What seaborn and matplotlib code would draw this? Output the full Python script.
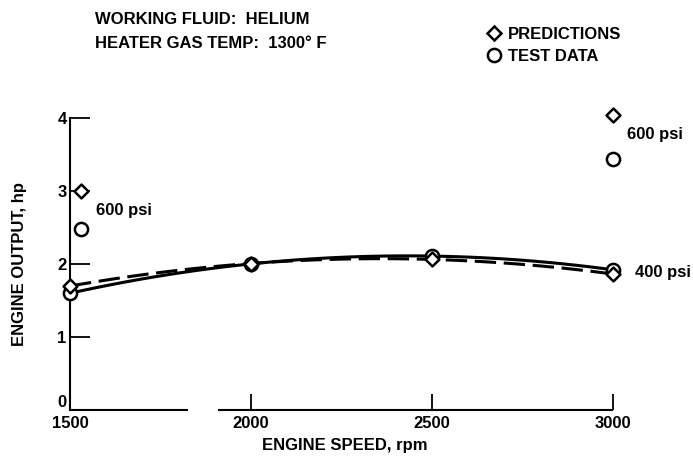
import matplotlib
matplotlib.use("Agg")
import matplotlib.pyplot as plt
import seaborn as sns
import pandas as pd
from matplotlib.lines import Line2D

# ---- data ----
speed_400 = [1500, 2000, 2500, 3000]
pred_400 = [1.70, 2.00, 2.07, 1.86]
test_400 = [1.60, 2.00, 2.11, 1.92]

speed_600_pred = [1530, 3000]
pred_600 = [3.00, 4.04]
speed_600_test = [1530, 3000]
test_600 = [2.48, 3.44]

x_ticks = [1500, 2000, 2500, 3000]
y_ticks = [0, 1, 2, 3, 4]

sns.set_theme(style="white")
plt.rcParams["font.family"] = ["Liberation Sans", "DejaVu Sans"]
plt.rcParams["font.weight"] = "bold"
plt.rcParams["text.color"] = "black"
plt.rcParams["axes.labelcolor"] = "black"
plt.rcParams["xtick.color"] = "black"
plt.rcParams["ytick.color"] = "black"

FS = 12

fig = plt.figure(figsize=(6.93, 4.67), dpi=100)
ax = fig.add_axes([70 / 693, 1 - 410 / 467, 543 / 693, 292 / 467])

df400 = pd.DataFrame({"speed": speed_400, "pred": pred_400, "test": test_400})

# fitted curves
sns.regplot(data=df400, x="speed", y="test", order=2, ci=None, scatter=False,
            ax=ax, color="black", line_kws=dict(lw=2.2, solid_capstyle="round"))
sns.regplot(data=df400, x="speed", y="pred", order=2, ci=None, scatter=False,
            ax=ax, color="black", line_kws=dict(lw=2.2, dashes=(7, 2.5)))

mk = dict(facecolor="white", edgecolor="black", linewidth=1.8, zorder=5, clip_on=False)
sns.scatterplot(x=speed_400, y=test_400, marker="o", s=90, ax=ax, **mk)
sns.scatterplot(x=speed_400, y=pred_400, marker="D", s=50, ax=ax, **mk)
sns.scatterplot(x=speed_600_test, y=test_600, marker="o", s=90, ax=ax, **mk)
sns.scatterplot(x=speed_600_pred, y=pred_600, marker="D", s=50, ax=ax, **mk)

ax.set_xlim(1500, 3000)
ax.set_ylim(0, 4)
ax.set_xticks(x_ticks)
ax.set_yticks(y_ticks)
ax.set_xticklabels([str(v) for v in x_ticks], fontsize=FS, fontweight="bold")
ax.set_yticklabels([str(v) for v in y_ticks], fontsize=FS, fontweight="bold")
ax.tick_params(axis="x", bottom=True, direction="in", length=11.5, width=1.3, pad=4,
               color="black")
ax.tick_params(axis="y", left=True, direction="in", length=14.5, width=1.3, pad=2.5,
               color="black")
# lift the "0" label a bit, as in the reference
ax.get_yticklabels()[0].set_verticalalignment("bottom")

for s in ["top", "right", "bottom"]:
    ax.spines[s].set_visible(False)
ax.spines["left"].set_color("black")
ax.spines["left"].set_linewidth(1.5)
# broken bottom axis
ax.hlines(0, 1500, 1826, color="black", lw=1.5, clip_on=False)
ax.hlines(0, 1909, 3000, color="black", lw=1.5, clip_on=False)

ax.set_xlabel("ENGINE SPEED, rpm", fontsize=FS, fontweight="bold")
ax.set_ylabel("ENGINE OUTPUT, hp", fontsize=FS, fontweight="bold")
ax.xaxis.set_label_coords(0.506, -0.095)
ax.yaxis.set_label_coords(-0.08, 0.5)

ax.text(1572, 2.73, "600 psi", fontsize=FS, fontweight="bold", va="center", ha="left")
ax.text(3039, 3.77, "600 psi", fontsize=FS, fontweight="bold", va="center", ha="left",
        clip_on=False)
ax.text(3061, 1.88, "400 psi", fontsize=FS, fontweight="bold", va="center", ha="left",
        clip_on=False)

fig.text(95 / 693, 1 - 19 / 467, "WORKING FLUID:  HELIUM", fontsize=FS, fontweight="bold",
         va="center", ha="left")
fig.text(95 / 693, 1 - 44 / 467, "HEATER GAS TEMP:  1300° F", fontsize=FS, fontweight="bold",
         va="center", ha="left")

handles = [
    Line2D([], [], marker="D", ls="none", markersize=7, markerfacecolor="white",
           markeredgecolor="black", markeredgewidth=1.8),
    Line2D([], [], marker="o", ls="none", markersize=9.5, markerfacecolor="white",
           markeredgecolor="black", markeredgewidth=1.8),
]
fig.legend(handles, ["PREDICTIONS", "TEST DATA"], loc="upper left",
           bbox_to_anchor=(476 / 693, 1 - 15 / 467), frameon=False,
           prop=dict(size=FS, weight="bold"), handlelength=0.8, handletextpad=0.4,
           labelspacing=0.45, borderpad=0.2)

fig.savefig("out.png", dpi=100)
